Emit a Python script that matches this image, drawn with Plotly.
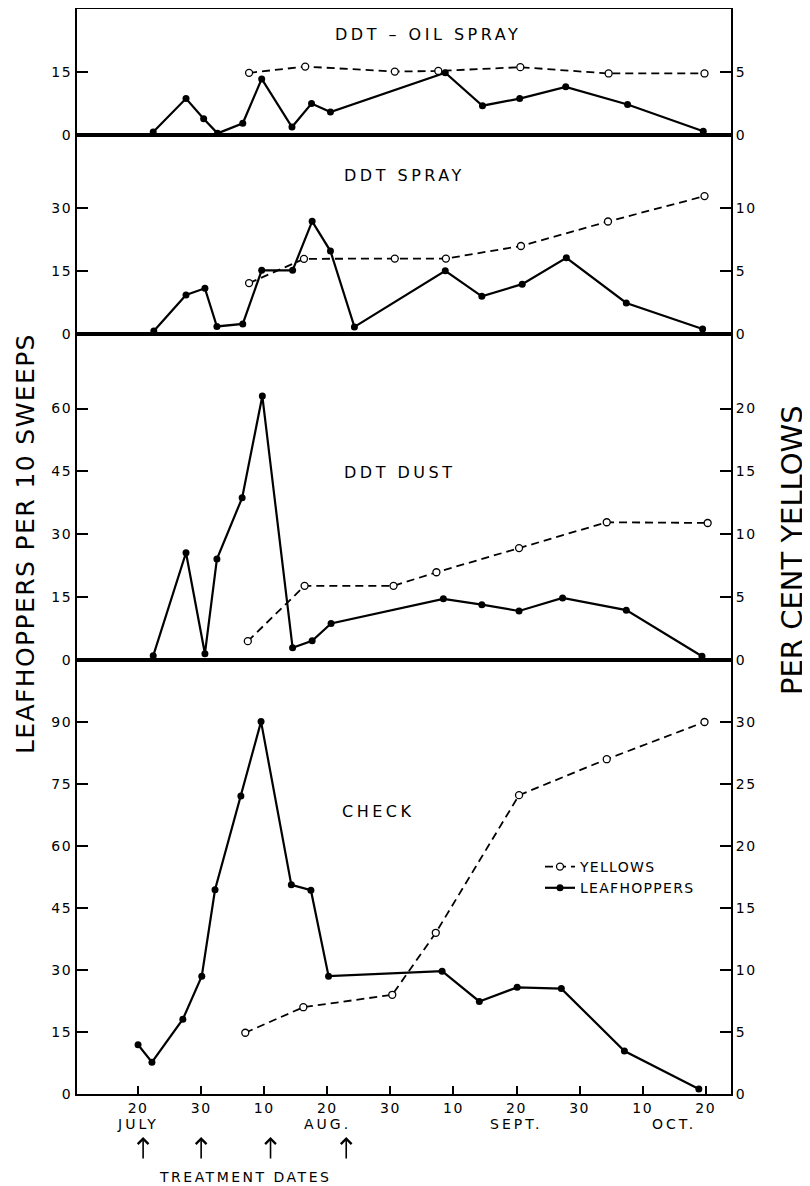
import plotly.graph_objects as go
from plotly.subplots import make_subplots

# ---------------- data ----------------
# x scale: 0 = July 20; every 10 units is one labelled 10-day step on the chart
x_ticks = [0, 10, 20, 30, 40, 50, 60, 70, 80, 90]
x_tick_labels = ["20", "30", "10", "20", "30", "10", "20", "30", "10", "20"]
month_labels = ["JULY", "AUG.", "SEPT.", "OCT."]
month_pos = [0, 30, 60, 85]
treatment_dates = [0.8, 10, 21, 33]

panel_titles = ["DDT – OIL SPRAY", "DDT SPRAY", "DDT DUST", "CHECK"]

# DDT - oil spray
oil_hop_x = [2.4, 7.6, 10.4, 12.6, 16.6, 19.6, 24.4, 27.5, 30.5, 48.7, 54.6, 60.5, 67.8, 77.6, 89.6]
oil_hop_y = [0.7, 8.7, 3.9, 0.4, 2.8, 13.4, 1.9, 7.5, 5.5, 14.9, 7.0, 8.7, 11.5, 7.3, 0.9]
oil_yel_x = [17.6, 26.5, 40.7, 47.6, 60.6, 74.6, 89.8]
oil_yel_y = [4.95, 5.45, 5.05, 5.1, 5.4, 4.9, 4.9]

# DDT spray
spray_hop_x = [2.5, 7.6, 10.6, 12.5, 16.6, 19.6, 24.5, 27.6, 30.5, 34.3, 48.7, 54.5, 60.9, 67.9, 77.4, 89.5]
spray_hop_y = [0.7, 9.3, 10.9, 1.8, 2.4, 15.2, 15.2, 26.9, 19.8, 1.7, 15.1, 9.0, 11.9, 18.2, 7.4, 1.2]
spray_yel_x = [17.6, 26.3, 40.7, 48.8, 60.7, 74.5, 89.8]
spray_yel_y = [4.05, 5.98, 6.0, 6.0, 7.0, 8.95, 10.97]

# DDT dust
dust_hop_x = [2.4, 7.6, 10.6, 12.5, 16.5, 19.7, 24.5, 27.6, 30.6, 48.4, 54.5, 60.4, 67.3, 77.4, 89.4]
dust_hop_y = [1.0, 25.6, 1.5, 24.1, 38.7, 63.0, 2.9, 4.6, 8.7, 14.6, 13.2, 11.7, 14.8, 11.9, 0.9]
dust_yel_x = [17.4, 26.4, 40.5, 47.3, 60.4, 74.3, 90.3]
dust_yel_y = [1.5, 5.9, 5.9, 6.98, 8.9, 10.96, 10.9]

# Check
check_hop_x = [0, 2.2, 7.1, 10.1, 12.2, 16.3, 19.5, 24.3, 27.4, 30.2, 48.2, 54.1, 60.1, 67.1, 77.1, 88.9]
check_hop_y = [11.9, 7.7, 18.1, 28.5, 49.4, 72.1, 90.1, 50.6, 49.3, 28.5, 29.7, 22.4, 25.8, 25.5, 10.4, 1.2]
check_yel_x = [17.0, 26.2, 40.3, 47.2, 60.4, 74.3, 89.8]
check_yel_y = [4.94, 7.0, 8.0, 13.0, 24.1, 27.0, 30.0]

left_ticks = [[0, 15], [0, 15, 30], [0, 15, 30, 45, 60], [0, 15, 30, 45, 60, 75, 90]]
right_ticks = [[0, 5], [0, 5, 10], [0, 5, 10, 15, 20], [0, 5, 10, 15, 20, 25, 30]]
left_max = [30.1, 47.5, 77.8, 105.0]
title_pos = [(46, 24.1), (42.3, 37.9), (41.5, 44.7), (38.0, 68.3)]

panels = [
    (oil_hop_x, oil_hop_y, oil_yel_x, oil_yel_y),
    (spray_hop_x, spray_hop_y, spray_yel_x, spray_yel_y),
    (dust_hop_x, dust_hop_y, dust_yel_x, dust_yel_y),
    (check_hop_x, check_hop_y, check_yel_x, check_yel_y),
]

# ---------------- figure ----------------
W, H = 810, 1186
OFF = 8                      # page body margin of the written html
P_LEFT, P_RIGHT, P_TOP, P_BOTTOM = 77, 731, 9, 1094   # plot box on the page
ML = P_LEFT - OFF
MT = P_TOP - OFF
MR = W - (P_RIGHT - OFF)
MB = H - (P_BOTTOM - OFF)
PW, PH = P_RIGHT - P_LEFT, P_BOTTOM - P_TOP
FONT = "DejaVu Sans"


def sp(text, ls):
    return f'<span style="letter-spacing:{ls}px">{text}</span>'


def py2paper(py):
    return (P_BOTTOM - py) / PH


def px2paper(px):
    return (px - P_LEFT) / PW


fig = make_subplots(rows=4, cols=1, shared_xaxes=True, vertical_spacing=0,
                    row_heights=[126, 199, 326, 434],
                    specs=[[{"secondary_y": True}]] * 4)

for i, (hx, hy, yx, yy) in enumerate(panels):
    r = i + 1
    fig.add_trace(go.Scatter(
        x=yx, y=yy, mode="lines+markers", name=sp("YELLOWS", 1.3),
        line=dict(color="black", width=1.8, dash="8px,5px"),
        marker=dict(symbol="circle", size=7, color="white",
                    line=dict(color="black", width=1.3)),
        showlegend=(r == 4), legendrank=1), row=r, col=1, secondary_y=True)
    fig.add_trace(go.Scatter(
        x=hx, y=hy, mode="lines+markers", name=sp("LEAFHOPPERS", 1.3),
        line=dict(color="black", width=2.2),
        marker=dict(symbol="circle", size=7, color="black"),
        showlegend=(r == 4), legendrank=2), row=r, col=1, secondary_y=False)

    fig.update_yaxes(row=r, col=1, secondary_y=False,
                     range=[0, left_max[i]], tickvals=left_ticks[i],
                     ticktext=[sp(str(t), 1.5) for t in left_ticks[i]],
                     ticks="inside", ticklen=11, tickwidth=1.5, tickcolor="black",
                     showline=True, linecolor="black", linewidth=2,
                     showgrid=False, zeroline=False, automargin=False,
                     tickfont=dict(family=FONT, size=14, color="black"))
    fig.update_yaxes(row=r, col=1, secondary_y=True,
                     range=[0, left_max[i] / 3], tickvals=right_ticks[i],
                     ticktext=[sp(str(t), 1.5) for t in right_ticks[i]],
                     ticks="inside", ticklen=11, tickwidth=1.5, tickcolor="black",
                     showline=True, linecolor="black", linewidth=2,
                     showgrid=False, zeroline=False, automargin=False,
                     tickfont=dict(family=FONT, size=14, color="black"))
    fig.update_xaxes(row=r, col=1, range=[-9.68, 94.0], domain=[0, 1],
                     showline=True, linecolor="black", linewidth=2, mirror=True,
                     showgrid=False, zeroline=False, automargin=False,
                     tickvals=x_ticks, ticktext=[sp(t, 1.5) for t in x_tick_labels],
                     ticks=("inside" if r == 4 else ""), ticklen=8, tickwidth=1.5,
                     tickcolor="black", showticklabels=(r == 4),
                     ticklabelstandoff=0,
                     tickfont=dict(family=FONT, size=14, color="black"))

    tx, ty = title_pos[i]
    yname = "y" if i == 0 else f"y{2 * i + 1}"
    xname = "x" if i == 0 else f"x{i + 1}"
    fig.add_annotation(x=tx, y=ty, xref=xname, yref=yname,
                       text=sp(panel_titles[i], 3.5), showarrow=False,
                       font=dict(family=FONT, size=16, color="black"))

# month labels
for m, mp in zip(month_labels, month_pos):
    fig.add_annotation(x=mp, y=py2paper(1124), xref="x4", yref="paper",
                       text=sp(m, 3), showarrow=False, yanchor="middle",
                       font=dict(family=FONT, size=14, color="black"))

# treatment arrows
for td in treatment_dates:
    fig.add_annotation(x=td, y=py2paper(1137), xref="x4", yref="paper",
                       text="", showarrow=True, ax=0, ay=23,
                       arrowhead=4, arrowsize=1.3, arrowwidth=1.6, arrowcolor="black")

fig.add_annotation(x=17, y=py2paper(1177), xref="x4", yref="paper",
                   text=sp("TREATMENT DATES", 2.5), showarrow=False, yanchor="middle",
                   font=dict(family=FONT, size=14, color="black"))

# axis titles
fig.add_annotation(x=px2paper(25), y=py2paper(544), xref="paper", yref="paper",
                   text=sp("LEAFHOPPERS PER 10 SWEEPS", 1.4), textangle=-90,
                   showarrow=False, xanchor="center", yanchor="middle",
                   font=dict(family=FONT, size=25, color="black"))
fig.add_annotation(x=px2paper(792), y=py2paper(550), xref="paper", yref="paper",
                   text="PER CENT YELLOWS", textangle=-90, showarrow=False,
                   xanchor="center", yanchor="middle",
                   font=dict(family=FONT, size=29, color="black"))

fig.update_layout(
    width=W, height=H,
    margin=dict(l=ML, r=MR, t=MT, b=MB, autoexpand=False),
    paper_bgcolor="white", plot_bgcolor="white",
    font=dict(family=FONT, color="black"),
    legend=dict(x=px2paper(540), y=py2paper(851), xanchor="left", yanchor="top",
                bgcolor="rgba(0,0,0,0)", font=dict(family=FONT, size=14, color="black"),
                tracegroupgap=0),
)

fig.write_html("out.html")
